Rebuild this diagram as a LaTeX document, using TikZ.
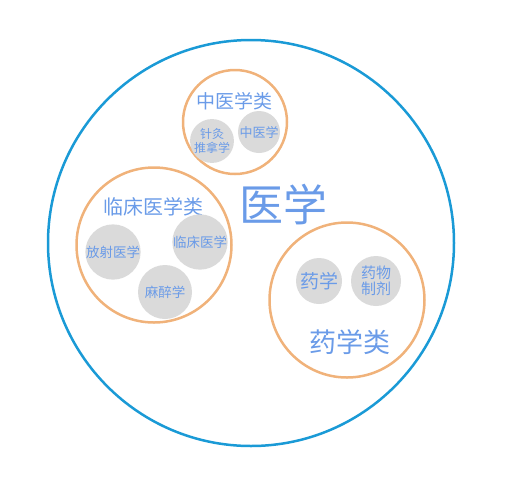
\documentclass[tikz,border=0pt]{standalone}
\usepackage{fontspec}
\setmainfont{Noto Sans CJK SC}
\definecolor{mblue}{HTML}{1A9AD6}
\definecolor{tblue}{HTML}{6A9BE8}
\definecolor{lorange}{HTML}{F0B27A}
\definecolor{lgray}{HTML}{DADADA}
\begin{document}
\begin{tikzpicture}[x=1pt,y=-1pt,line width=2.5pt]
	\tikzset{every node/.style={text=tblue,inner sep=0pt,align=center}}
	\tikzset{ring/.style={circle,draw=lorange},ball/.style={circle,fill=lgray}}
	\useasboundingbox (0,0) rectangle (506,496);
	\node[circle,draw=mblue,minimum size=406pt] (yx) at (251,243) {};
	\node[font=\fontsize{44}{46}\selectfont] (yxt) at (283,205) {医学};
	% zhong yi
	\node[ring,minimum size=104pt] (zyl) at (235,122) {};
	\node[font=\fontsize{19}{21}\selectfont] (zylt) at (234,101) {中医学类};
	\node[ball,minimum size=41pt,font=\fontsize{12}{14}\selectfont] (zj) at (212,141) {针灸\\推拿学};
	\node[ball,minimum size=42pt,font=\fontsize{13}{15}\selectfont] (zy) at (259,132) {中医学};
	% lin chuang
	\node[ring,minimum size=155pt] (lcl) at (154,245) {};
	\node[font=\fontsize{20}{22}\selectfont] (lclt) at (153,207) {临床医学类};
	\node[ball,minimum size=46pt,font=\fontsize{13.5}{15}\selectfont] (fs) at (113,252) {放射医学};
	\node[ball,minimum size=52pt,font=\fontsize{13.5}{15}\selectfont] (lc) at (200,242) {临床医学};
	\node[ball,minimum size=54pt,font=\fontsize{13.5}{15}\selectfont] (mz) at (165,292) {麻醉学};
	% yao xue
	\node[ring,minimum size=155pt] (yl) at (347,300) {};
	\node[font=\fontsize{27}{29}\selectfont] (ylt) at (350,342) {药学类};
	\node[ball,minimum size=46pt,font=\fontsize{19}{21}\selectfont] (yao) at (319,281) {药学};
	\node[ball,minimum size=50pt,font=\fontsize{15}{16}\selectfont] (zj2) at (376,281) {药物\\制剂};
\end{tikzpicture}
\end{document}
